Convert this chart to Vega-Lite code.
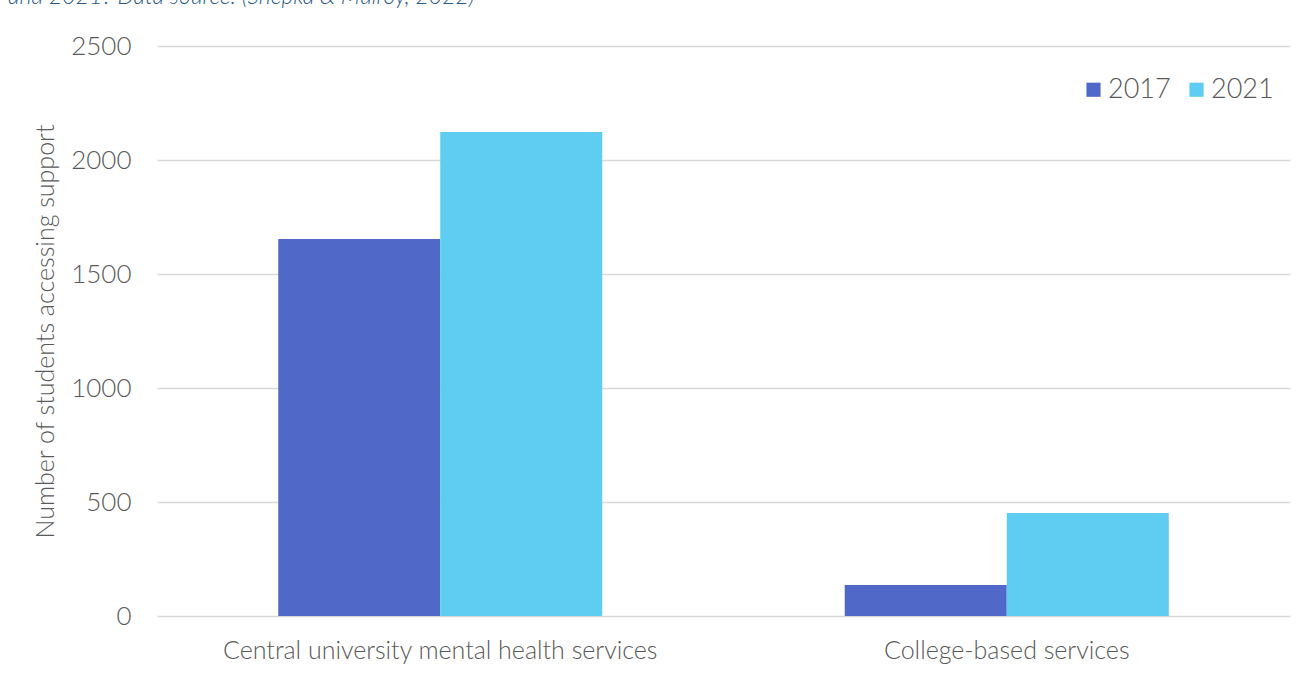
{
  "$schema": "https://vega.github.io/schema/vega-lite/v6.json",
  "autosize": {"type": "none"},
  "padding": {"left": 157, "top": 46, "right": 18, "bottom": 59},
  "width": 1133,
  "height": 570,
  "background": "white",
  "title": {
    "text": "and 2021? Data source: (Shepka & Mulroy, 2022)",
    "anchor": "start",
    "frame": "group",
    "dx": -149,
    "offset": 24,
    "font": "Lato",
    "fontSize": 23,
    "fontStyle": "italic",
    "fontWeight": 300,
    "color": "#2a5a88"
  },
  "data": {
    "values": [
      {"service": "Central university mental health services", "year": "2017", "students": 1654},
      {"service": "Central university mental health services", "year": "2021", "students": 2123},
      {"service": "College-based services", "year": "2017", "students": 136},
      {"service": "College-based services", "year": "2021", "students": 452}
    ]
  },
  "mark": {"type": "bar"},
  "encoding": {
    "x": {
      "field": "service",
      "type": "nominal",
      "sort": null,
      "scale": {"paddingInner": 0.428, "paddingOuter": 0.214},
      "axis": {
        "title": null,
        "labelAngle": 0,
        "labelLimit": 0,
        "ticks": false,
        "domain": false,
        "labelFont": "Lato",
        "labelFontWeight": 300,
        "labelFontSize": 25,
        "labelColor": "#595959",
        "labelPadding": 22
      }
    },
    "xOffset": {"field": "year", "type": "nominal"},
    "y": {
      "field": "students",
      "type": "quantitative",
      "scale": {"domain": [0, 2500]},
      "axis": {
        "title": "Number of students accessing support",
        "values": [0, 500, 1000, 1500, 2000, 2500],
        "format": "d",
        "ticks": false,
        "domain": false,
        "grid": true,
        "gridColor": "#d9d9d9",
        "gridWidth": 1.3,
        "labelFont": "Lato",
        "labelFontWeight": 300,
        "labelFontSize": 26,
        "labelColor": "#595959",
        "labelPadding": 26,
        "titleFont": "Lato",
        "titleFontWeight": 300,
        "titleFontSize": 25,
        "titleColor": "#595959",
        "titlePadding": 12
      }
    },
    "color": {
      "field": "year",
      "type": "nominal",
      "scale": {"domain": ["2017", "2021"], "range": ["#5068c8", "#5fcdf2"]},
      "legend": {
        "title": null,
        "orient": "none",
        "legendX": 923,
        "legendY": 30,
        "direction": "horizontal",
        "symbolType": "square",
        "symbolSize": 200,
        "symbolStrokeWidth": 0,
        "labelFont": "Lato",
        "labelFontWeight": 300,
        "labelFontSize": 27,
        "labelColor": "#595959",
        "labelOffset": 1,
        "columnPadding": 12
      }
    }
  },
  "config": {"view": {"stroke": null}}
}
